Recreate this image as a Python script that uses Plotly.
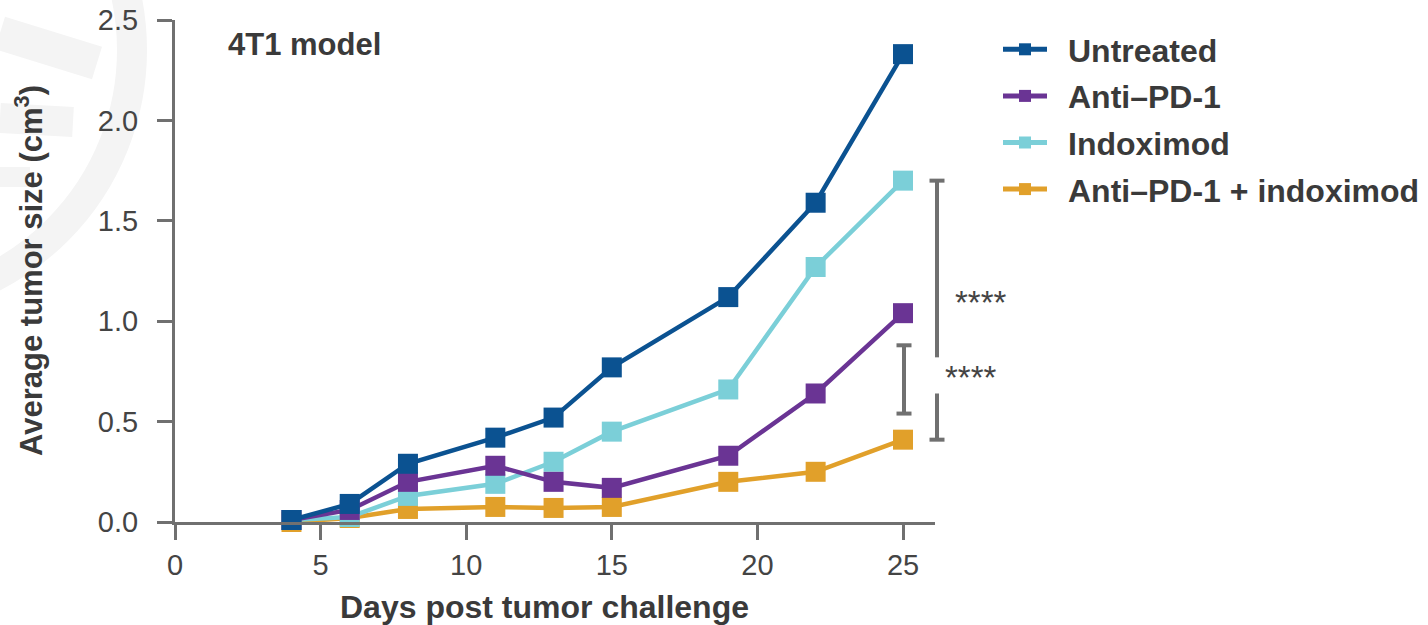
import plotly.graph_objects as go

# Tumour growth in the 4T1 model, mean volume per group
days = [4, 6, 8, 11, 13, 15, 19, 22, 25]
untreated = [0.01, 0.09, 0.29, 0.42, 0.52, 0.77, 1.12, 1.59, 2.33]
anti_pd1 = [0.01, 0.06, 0.20, 0.28, 0.20, 0.17, 0.33, 0.64, 1.04]
indoximod = [0.01, 0.025, 0.13, 0.19, 0.30, 0.45, 0.66, 1.27, 1.70]
combo = [0.0, 0.02, 0.065, 0.075, 0.07, 0.075, 0.20, 0.25, 0.41]

group_names = ["Untreated", "Anti\u2013PD-1", "Indoximod", "Anti\u2013PD-1 + indoximod"]
group_values = [untreated, anti_pd1, indoximod, combo]
group_colors = ["#0B5291", "#6A3494", "#7BCFD8", "#E1A02A"]

x_ticks = [0, 5, 10, 15, 20, 25]
y_ticks = [0.0, 0.5, 1.0, 1.5, 2.0, 2.5]

# significance comparisons (y spans in data units)
sig_wide = (0.41, 1.70)     # indoximod vs combination
sig_narrow = (0.54, 0.88)   # anti-PD-1 vs combination

FONT = "Liberation Sans, Arial, sans-serif"
TEXT = "#3a3a3a"
AXIS = "#707070"

W, H = 1428, 625
ML, MR, MT, MB = 175, 493, 20, 103
PW, PH = W - ML - MR, H - MT - MB
Y_MAX = 2.5


def px_x(px):
    return (px - ML) / PW


def px_y(py):
    return (H - MB - py) / PH


fig = go.Figure()

# draw combination first so the untreated curve sits on top
for i in reversed(range(len(group_names))):
    fig.add_trace(go.Scatter(
        x=days, y=group_values[i], name="\u2002" + group_names[i],
        mode="lines+markers", legendgroup=f"g{i}", legendrank=i + 1,
        line=dict(color=group_colors[i], width=4.5),
        marker=dict(symbol="square", size=20, color=group_colors[i]),
        cliponaxis=False,
    ))

shapes = []

# faint background emblem
emb = "#f4f4f4"
cx, cy, r = -123, 50, 255
shapes.append(dict(type="circle", xref="paper", yref="paper",
                   x0=px_x(cx - r), x1=px_x(cx + r), y0=px_y(cy + r), y1=px_y(cy - r),
                   line=dict(color=emb, width=30), layer="below"))
for (xa, ya, xb, yb, w) in [(0, 33, 97, 63, 34), (0, 118, 73, 122, 30), (0, 177, 30, 177, 20)]:
    shapes.append(dict(type="line", xref="paper", yref="paper",
                       x0=px_x(xa), y0=px_y(ya), x1=px_x(xb), y1=px_y(yb),
                       line=dict(color=emb, width=w), layer="below"))


def bracket(xpx, lo, hi, gap=None):
    out = []
    cap = 7.5
    segs = [(lo, hi)] if gap is None else [(lo, gap[0]), (gap[1], hi)]
    for a, b in segs:
        out.append(dict(type="line", xref="paper", yref="paper",
                        x0=px_x(xpx), x1=px_x(xpx), y0=a / Y_MAX, y1=b / Y_MAX,
                        line=dict(color=AXIS, width=4)))
    for v in (lo, hi):
        out.append(dict(type="line", xref="paper", yref="paper",
                        x0=px_x(xpx - cap), x1=px_x(xpx + cap), y0=v / Y_MAX, y1=v / Y_MAX,
                        line=dict(color=AXIS, width=4)))
    return out


shapes += bracket(937, sig_wide[0], sig_wide[1], gap=(0.64, 0.82))
shapes += bracket(904, sig_narrow[0], sig_narrow[1])

annotations = [
    dict(text="<b>4T1 model</b>", xref="paper", yref="paper",
         x=px_x(226), y=px_y(45), xanchor="left", yanchor="middle",
         showarrow=False, font=dict(family=FONT, size=31, color=TEXT)),
    dict(text="****", xref="paper", yref="paper", x=px_x(981), y=px_y(302),
         xanchor="center", yanchor="middle", showarrow=False,
         font=dict(family=FONT, size=33, color="#444444")),
    dict(text="****", xref="paper", yref="paper", x=px_x(971), y=px_y(377),
         xanchor="center", yanchor="middle", showarrow=False,
         font=dict(family=FONT, size=33, color="#444444")),
    dict(text="<b>Days post tumor challenge</b>", xref="paper", yref="paper",
         x=px_x(544), y=px_y(607), xanchor="center", yanchor="middle",
         showarrow=False, font=dict(family=FONT, size=32, color=TEXT)),
    dict(text="<b>Average tumor size (cm<sup>3</sup>)</b>", xref="paper", yref="paper",
         x=px_x(29), y=px_y(271), xanchor="center", yanchor="middle", textangle=-90,
         showarrow=False, font=dict(family=FONT, size=31, color=TEXT)),
]

fig.update_layout(
    width=W, height=H,
    margin=dict(l=ML, r=MR, t=MT, b=MB, autoexpand=False),
    paper_bgcolor="white", plot_bgcolor="rgba(0,0,0,0)",
    font=dict(family=FONT, color="#444444"),
    shapes=shapes, annotations=annotations,
    legend=dict(
        x=px_x(998), y=px_y(22), xanchor="left", yanchor="top",
        traceorder="grouped", tracegroupgap=2,
        itemsizing="constant", itemwidth=44,
        font=dict(family=FONT, size=32, color=TEXT, weight="bold"),
        bgcolor="rgba(0,0,0,0)",
    ),
    showlegend=True,
)

fig.update_xaxes(
    range=[0, (935 - ML) / ((903 - ML) / 25)],
    tickvals=x_ticks, ticktext=[str(v) for v in x_ticks],
    showgrid=False, zeroline=False, automargin=False,
    showline=True, linecolor=AXIS, linewidth=3,
    ticks="outside", ticklen=15, tickwidth=3, tickcolor=AXIS,
    tickfont=dict(family=FONT, size=29, color="#444444"),
    ticklabelstandoff=0,
)
fig.update_yaxes(
    range=[0, Y_MAX],
    tickvals=y_ticks, ticktext=[f"{v:.1f}" for v in y_ticks],
    showgrid=False, zeroline=False, automargin=False,
    showline=True, linecolor=AXIS, linewidth=3,
    ticks="outside", ticklen=15, tickwidth=3, tickcolor=AXIS,
    tickfont=dict(family=FONT, size=29, color="#444444"),
    ticklabelstandoff=13,
)

fig.write_html("out.html")
